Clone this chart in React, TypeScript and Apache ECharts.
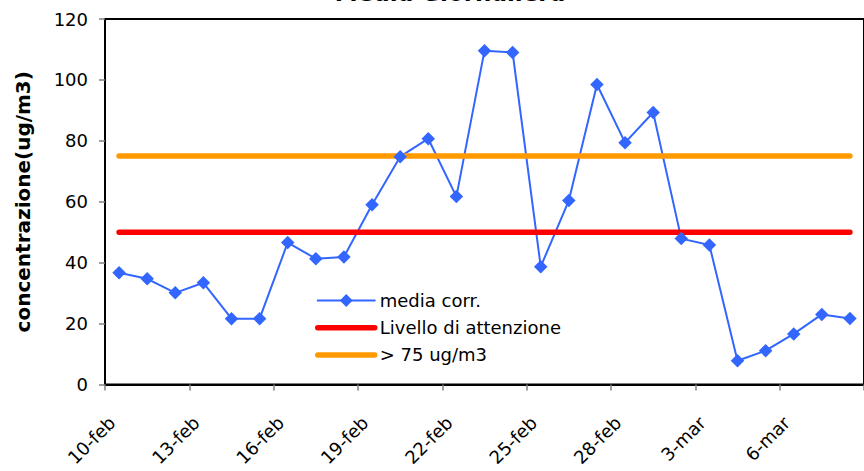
import React, { useEffect, useRef } from "react";
import * as echarts from "echarts";

const categories = [
  "10-feb", "11-feb", "12-feb", "13-feb", "14-feb", "15-feb", "16-feb", "17-feb", "18-feb",
  "19-feb", "20-feb", "21-feb", "22-feb", "23-feb", "24-feb", "25-feb", "26-feb", "27-feb",
  "28-feb", "1-mar", "2-mar", "3-mar", "4-mar", "5-mar", "6-mar", "7-mar", "8-mar",
];

const mediaCorr = [
  36.7, 34.7, 30.1, 33.4, 21.6, 21.6, 46.6, 41.3, 41.9, 59.0, 74.8, 80.7, 61.7, 109.6,
  109.0, 38.7, 60.4, 98.5, 79.4, 89.3, 47.9, 45.8, 7.8, 11.1, 16.6, 23.0, 21.7,
];

const livelloAttenzione = categories.map(() => 50);
const soglia75 = categories.map(() => 75);

const yTicks = { min: 0, max: 120, interval: 20 };

const FONT = "DejaVu Sans";

export default function App() {
  const ref = useRef<HTMLDivElement>(null);

  useEffect(() => {
    if (!ref.current) return;
    const chart = echarts.init(ref.current, null, { renderer: "svg" });
    chart.setOption({
      animation: false,
      backgroundColor: "#ffffff",
      textStyle: { fontFamily: FONT },
      graphic: [
        {
          type: "text",
          x: 450,
          y: -7,
          style: {
            text: "Media Giornaliera",
            fontFamily: FONT,
            fontSize: 23,
            fontWeight: "bold",
            fill: "#000000",
            textAlign: "center",
            textVerticalAlign: "middle",
          },
        },
      ],
      grid: {
        left: 105,
        top: 19,
        width: 766,
        height: 365.5,
        show: true,
        borderColor: "#000000",
        borderWidth: 2,
        backgroundColor: "transparent",
      },
      legend: {
        orient: "vertical",
        left: 315,
        top: 291.5,
        padding: 0,
        itemWidth: 57,
        itemHeight: 16,
        itemGap: 9.2,
        lineStyle: { width: "inherit", cap: "round" },
        textStyle: { fontFamily: FONT, fontSize: 18, color: "#000000", lineHeight: 18 },
        data: [
          { name: "media corr." },
          {
            name: "Livello di attenzione",
            itemStyle: { opacity: 0 },
            lineStyle: { width: 5.5, color: "#ff0000", cap: "round" },
          },
          {
            name: "> 75 ug/m3",
            itemStyle: { opacity: 0 },
            lineStyle: { width: 5.5, color: "#ff9900", cap: "round" },
          },
        ],
      },
      xAxis: {
        type: "category",
        data: categories,
        boundaryGap: true,
        axisLine: { show: true, lineStyle: { color: "#000000", width: 2 } },
        axisTick: {
          show: true,
          interval: 2,
          alignWithLabel: false,
          length: 6,
          lineStyle: { color: "#808080", width: 1.5 },
        },
        axisLabel: {
          interval: 2,
          rotate: 45,
          margin: 28,
          padding: [0, 10, 0, 0],
          fontFamily: FONT,
          fontSize: 18,
          color: "#000000",
        },
        splitLine: { show: false },
      },
      yAxis: {
        type: "value",
        min: yTicks.min,
        max: yTicks.max,
        interval: yTicks.interval,
        name: "concentrazione(ug/m3)",
        nameLocation: "middle",
        nameGap: 72,
        nameTextStyle: { fontFamily: FONT, fontSize: 20, fontWeight: "bold", color: "#000000" },
        axisLine: { show: true, lineStyle: { color: "#000000", width: 2 } },
        axisTick: { show: true, length: 6, lineStyle: { color: "#808080", width: 1.5 } },
        axisLabel: { margin: 17, fontFamily: FONT, fontSize: 18, color: "#000000" },
        splitLine: { show: false },
      },
      series: [
        {
          name: "media corr.",
          type: "line",
          data: mediaCorr,
          symbol: "diamond",
          symbolSize: 13.5,
          itemStyle: { color: "#3366ff" },
          lineStyle: { color: "#3366ff", width: 2 },
        },
        {
          name: "Livello di attenzione",
          type: "line",
          data: livelloAttenzione,
          symbol: "none",
          itemStyle: { color: "#ff0000" },
          lineStyle: { color: "#ff0000", width: 5.5, cap: "round" },
        },
        {
          name: "> 75 ug/m3",
          type: "line",
          data: soglia75,
          symbol: "none",
          itemStyle: { color: "#ff9900" },
          lineStyle: { color: "#ff9900", width: 5.5, cap: "round" },
        },
      ],
    });
    return () => chart.dispose();
  }, []);

  return (
    <div
      ref={ref}
      style={{ position: "absolute", left: 0, top: 0, width: 864, height: 471 }}
    />
  );
}
